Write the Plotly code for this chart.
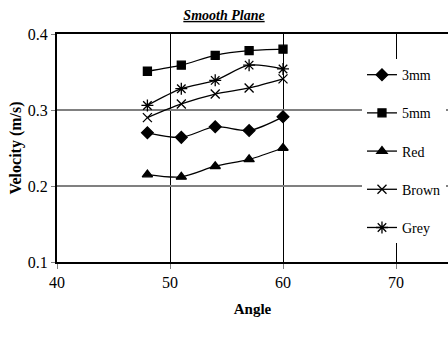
import plotly.graph_objects as go

# Plane inclination (degrees)
angle = [48, 51, 54, 57, 60]

# Measured velocity (m/s) for each particle type on the smooth plane
series_names = ["3mm", "5mm", "Red", "Brown", "Grey"]
v_3mm = [0.270, 0.264, 0.278, 0.273, 0.291]
v_5mm = [0.351, 0.359, 0.372, 0.378, 0.380]
v_red = [0.215, 0.212, 0.226, 0.235, 0.250]
v_brown = [0.290, 0.308, 0.321, 0.329, 0.341]
v_grey = [0.306, 0.328, 0.339, 0.359, 0.354]

x_ticks = [40, 50, 60, 70]
y_ticks = [0.1, 0.2, 0.3, 0.4]

symbols = ["diamond", "square", "triangle-up", "x-thin-open", "asterisk-open"]
sizes = [9, 8, 9, 9, 10]
values = [v_3mm, v_5mm, v_red, v_brown, v_grey]

serif = "Times New Roman, Liberation Serif, serif"

fig = go.Figure()
for name, vals, sym, sz in zip(series_names, values, symbols, sizes):
    fig.add_trace(go.Scatter(
        x=angle, y=vals, name=name, legendgroup=name,
        mode="lines+markers",
        line=dict(color="black", width=1.3, shape="spline", smoothing=0.8),
        marker=dict(symbol=sym, size=sz, color="black",
                    line=dict(color="black", width=1.3)),
    ))

fig.update_layout(
    width=448, height=341,
    margin=dict(l=57, r=0, t=34, b=79),
    paper_bgcolor="white", plot_bgcolor="white",
    font=dict(family=serif, color="black", size=15),
    title=dict(text="<b><i><u>Smooth Plane</u></i></b>", x=0.5, xanchor="center",
               y=1 - 15 / 341, yanchor="middle", font=dict(size=14, family=serif)),
    legend=dict(x=0.78, y=0.89, xanchor="left", yanchor="top",
                bgcolor="white", borderwidth=0, tracegroupgap=17,
                font=dict(size=14, family=serif), itemwidth=30),
    showlegend=True,
)

fig.update_xaxes(
    range=[40, 74.6], tickvals=x_ticks, ticktext=[str(t) for t in x_ticks],
    showgrid=True, gridcolor="black", gridwidth=1,
    showline=True, linecolor="black", linewidth=1.5, mirror=True,
    ticks="outside", ticklen=5, tickcolor="gray",
    tickfont=dict(size=16, family=serif), zeroline=False,
    title=dict(text="<b>Angle</b>", font=dict(size=15, family=serif), standoff=14),
)
fig.update_yaxes(
    range=[0.1, 0.4], tickvals=y_ticks, ticktext=["0.1", "0.2", "0.3", "0.4"],
    showgrid=True, gridcolor="gray", gridwidth=1.5,
    showline=True, linecolor="black", linewidth=2,
    ticks="outside", ticklen=4, tickcolor="gray",
    tickfont=dict(size=16, family=serif), zeroline=False,
    title=dict(text="<b>Velocity (m/s)</b>", font=dict(size=16, family=serif), standoff=2),
)

fig.write_html("out.html")
